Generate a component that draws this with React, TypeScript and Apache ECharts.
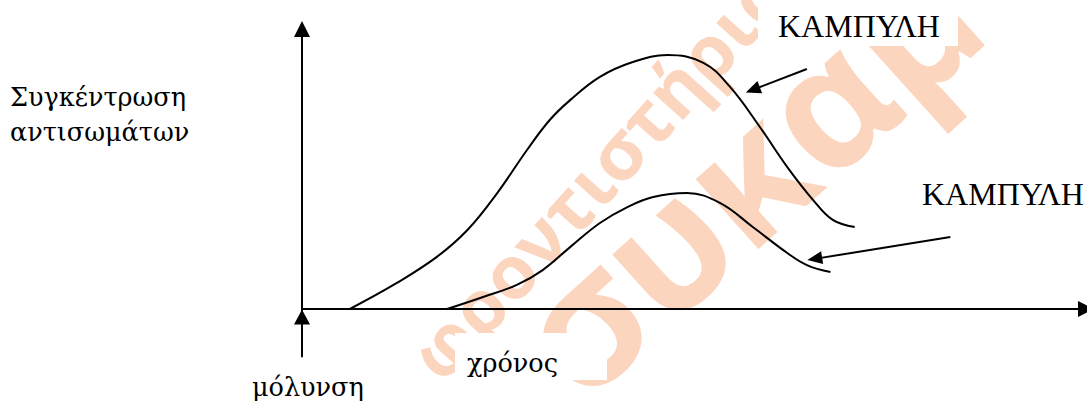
import React, { useEffect, useRef } from "react";
import * as echarts from "echarts";

// ---- data (arbitrary units: time 0..100, level -17..100) ----
const upperTime = [6.1, 12.1, 17.2, 21.1, 24.9, 28.7, 31.6, 34.2, 38.0, 42.2, 46.6, 51.2, 54.6, 58.4, 61.9, 65.2, 67.7, 70.5];
const upperLevel = [0, 9.3, 18.6, 28.2, 41.4, 56.8, 67.5, 74.6, 82.9, 88.2, 90.7, 87.9, 79.3, 65.0, 50.7, 38.9, 31.8, 29.3];
const lowerTime = [18.5, 23.1, 27.4, 30.7, 34.2, 38.0, 41.5, 44.8, 49.1, 53.3, 57.5, 61.9, 64.4, 67.4];
const lowerLevel = [0, 4.3, 8.6, 13.9, 22.1, 30.7, 36.4, 40.0, 41.4, 37.9, 29.3, 20.0, 15.7, 13.2];

// annotation arrows (from label towards curve)
const arrowFrom = [[64.4, 85.7], [82.7, 25.7]];
const arrowTo = [[57.5, 78.3], [65.4, 17.9]];
// infection marker (arrow under the origin)
const infectionMarker = [0, -2.9];

const timeRange = [0, 100];
const levelRange = [-17, 100];

// texts
const curveLabels = ["ΚΑΜΠΥΛΗ", "ΚΑΜΠΥΛΗ"];
const yLabelLines = ["Συγκέντρωση", "αντισωμάτων"];
const xLabel = "χρόνος";
const infectionLabel = "μόλυνση";
const watermarkSmall = "φροντιστήρια";
const watermarkBig = "συκαμ";

const SERIF = "'DejaVu Serif', serif";
const SERIF_CAPS = "'Liberation Serif', 'DejaVu Serif', serif";
const WM = "#fcd5bf";

export default function App() {
  const ref = useRef<HTMLDivElement>(null);
  useEffect(() => {
    if (!ref.current) return;
    const chart = echarts.init(ref.current, undefined, { renderer: "svg" });
    const zip = (xs: number[], ys: number[]) => xs.map((x, i) => [x, ys[i]]);
    const txt = (text: string, x: number, y: number, size: number, family: string) => ({
      type: "text",
      x,
      y,
      z: 10,
      style: { text, fontSize: size, fontFamily: family, fill: "#000", verticalAlign: "middle" },
    });
    chart.setOption({
      animation: false,
      backgroundColor: "#fff",
      grid: { left: 302, right: 1, top: 29, bottom: 46.4 },
      xAxis: {
        type: "value",
        min: timeRange[0],
        max: timeRange[1],
        z: 5,
        axisLine: {
          show: true,
          onZero: true,
          symbol: ["none", "triangle"],
          symbolSize: [16, 16],
          lineStyle: { color: "#000", width: 2 },
        },
        axisTick: { show: false },
        axisLabel: { show: false },
        splitLine: { show: false },
      },
      yAxis: {
        type: "value",
        min: levelRange[0],
        max: levelRange[1],
        z: 5,
        axisLine: {
          show: true,
          onZero: true,
          symbol: ["none", "triangle"],
          symbolSize: [16, 16],
          lineStyle: { color: "#000", width: 2 },
        },
        axisTick: { show: false },
        axisLabel: { show: false },
        splitLine: { show: false },
      },
      series: [
        {
          type: "line",
          z: 6,
          data: zip(upperTime, upperLevel),
          smooth: 0.4,
          symbol: "none",
          clip: false,
          lineStyle: { color: "#000", width: 2 },
          markLine: {
            silent: true,
            symbol: ["none", "triangle"],
            symbolSize: [13, 15],
            label: { show: false },
            lineStyle: { color: "#000", width: 2, type: "solid" },
            data: arrowFrom.map((f, i) => [{ coord: f }, { coord: arrowTo[i] }]),
          },
          markPoint: {
            silent: true,
            symbol: "triangle",
            symbolSize: [16, 15],
            label: { show: false },
            itemStyle: { color: "#000" },
            data: [{ coord: infectionMarker }],
          },
        },
        {
          type: "line",
          z: 6,
          data: zip(lowerTime, lowerLevel),
          smooth: 0.4,
          symbol: "none",
          clip: false,
          lineStyle: { color: "#000", width: 2 },
        },
      ],
      graphic: [
        {
          type: "text",
          x: 598,
          y: 172,
          z: 0,
          rotation: (48 * Math.PI) / 180,
          style: {
            text: watermarkSmall,
            fontSize: 74,
            fontWeight: "bold",
            fontFamily: "Open Sans",
            fill: WM,
            align: "center",
            verticalAlign: "middle",
          },
        },
        {
          type: "text",
          x: 744,
          y: 172,
          z: 0,
          rotation: (42 * Math.PI) / 180,
          style: {
            text: watermarkBig,
            fontSize: 172,
            fontWeight: "bold",
            fontFamily: "Open Sans",
            fill: WM,
            align: "center",
            verticalAlign: "middle",
          },
        },
        { type: "rect", z: 1, shape: { x: 455, y: 333, width: 152, height: 47 }, style: { fill: "#fff" } },
        { type: "rect", z: 1, shape: { x: 758, y: 0, width: 200, height: 46 }, style: { fill: "#fff" } },
        txt(curveLabels[0], 778, 26, 32, SERIF_CAPS),
        txt(curveLabels[1], 922, 194, 32, SERIF_CAPS),
        txt(yLabelLines[0], 10, 97, 25.5, SERIF),
        txt(yLabelLines[1], 10, 132, 25.5, SERIF),
        txt(xLabel, 467, 363, 25.5, SERIF),
        txt(infectionLabel, 252, 387, 25.5, SERIF),
      ],
    });
    return () => chart.dispose();
  }, []);
  return (
    <div
      ref={ref}
      style={{ position: "fixed", left: 0, top: 0, width: 1087, height: 403, background: "#fff" }}
    />
  );
}
